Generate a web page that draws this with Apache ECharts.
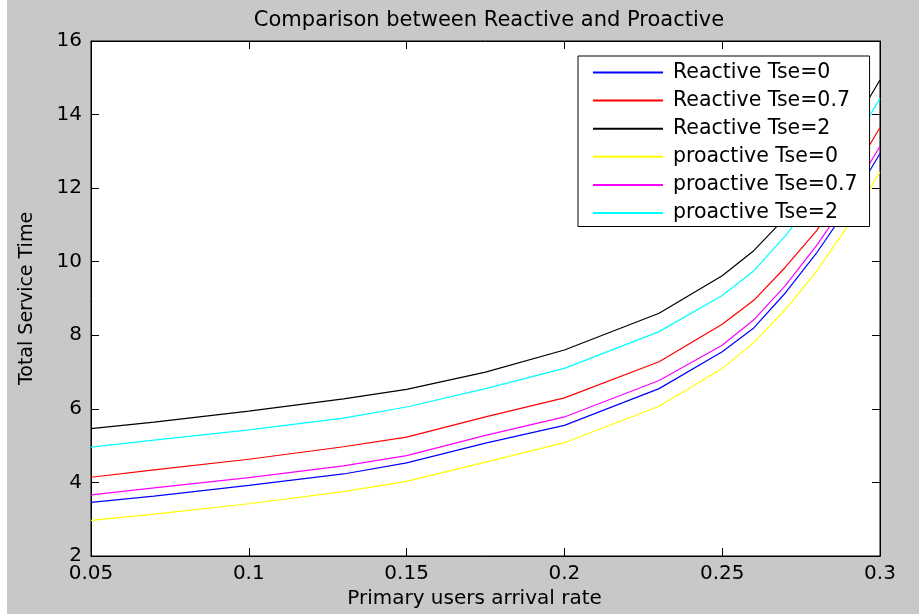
<!DOCTYPE html>
<html>
<head>
<meta charset="utf-8">
<script src="https://cdn.jsdelivr.net/npm/echarts@6/dist/echarts.min.js"></script>
<style>
html,body{margin:0;padding:0;background:#fff;}
#chart{width:919px;height:614px;}
</style>
</head>
<body>
<div id="chart"></div>
<script>
const arrivalRate = [0.05, 0.07, 0.10, 0.13, 0.15, 0.175, 0.20, 0.23, 0.25, 0.26, 0.27, 0.28, 0.29, 0.30];
const reactiveTse0   = [3.46, 3.63, 3.92, 4.23, 4.53, 5.07, 5.55, 6.55, 7.55, 8.20, 9.15, 10.25, 11.50, 12.94];
const reactiveTse07  = [4.14, 4.34, 4.63, 4.97, 5.23, 5.78, 6.30, 7.28, 8.30, 8.95, 9.85, 10.85, 12.20, 13.65];
const reactiveTse2   = [5.46, 5.64, 5.94, 6.27, 6.53, 7.00, 7.60, 8.60, 9.62, 10.30, 11.20, 12.30, 13.50, 14.94];
const proactiveTse0  = [2.97, 3.14, 3.42, 3.75, 4.03, 4.55, 5.08, 6.07, 7.10, 7.80, 8.70, 9.75, 11.00, 12.44];
const proactiveTse07 = [3.66, 3.85, 4.13, 4.45, 4.73, 5.28, 5.78, 6.77, 7.73, 8.42, 9.35, 10.45, 11.70, 13.14];
const proactiveTse2  = [4.96, 5.15, 5.43, 5.75, 6.05, 6.55, 7.10, 8.10, 9.08, 9.75, 10.70, 11.80, 13.00, 14.44];
const seriesNames = ['Reactive Tse=0', 'Reactive Tse=0.7', 'Reactive Tse=2', 'proactive Tse=0', 'proactive Tse=0.7', 'proactive Tse=2'];
const seriesValues = [reactiveTse0, reactiveTse07, reactiveTse2, proactiveTse0, proactiveTse07, proactiveTse2];
const seriesColors = ['#0000ff', '#ff0000', '#000000', '#ffff00', '#ff00ff', '#00ffff'];
const xTicks = [0.05, 0.3, 0.05]; // min, max, interval
const yTicks = [2, 16, 2];

const FONT = 'DejaVu Sans';
const chart = echarts.init(document.getElementById('chart'));
const tickFmt = v => String(+v.toFixed(2));

chart.setOption({
  backgroundColor: '#c8c8c8',
  animation: false,
  title: {
    text: 'Comparison between Reactive and Proactive',
    left: 484, top: 5, textAlign: 'center',
    textStyle: {fontFamily: FONT, fontSize: 21, fontWeight: 'normal', color: '#000'}
  },
  graphic: [{type: 'rect', left: 0, top: 0, shape: {width: 7, height: 614}, style: {fill: '#fff'}, silent: true}],
  grid: {left: 91, right: 39, top: 41, bottom: 58, show: true, backgroundColor: '#fff', borderColor: '#000', borderWidth: 1},
  legend: {
    orient: 'vertical', left: 578, top: 56,
    backgroundColor: '#fff', borderColor: '#000', borderWidth: 1,
    padding: [6, 12, 3, 15],
    itemWidth: 70, itemHeight: 2, itemGap: 7.1,
    icon: 'rect',
    textStyle: {fontFamily: FONT, fontSize: 20.5, color: '#000', lineHeight: 20, padding: [0, 0, 0, 5]},
    data: seriesNames
  },
  xAxis: [{
    type: 'value', min: xTicks[0], max: xTicks[1], interval: xTicks[2],
    name: 'Primary users arrival rate', nameLocation: 'middle', nameGap: 31,
    nameTextStyle: {fontFamily: FONT, fontSize: 20, color: '#000', padding: [0, 22, 0, 0]},
    axisLine: {lineStyle: {color: '#000', width: 1}},
    axisTick: {inside: true, length: 8, lineStyle: {color: '#000'}},
    axisLabel: {fontFamily: FONT, fontSize: 20, color: '#000', margin: 8, formatter: tickFmt},
    splitLine: {show: false}
  }, {
    type: 'value', position: 'top', min: xTicks[0], max: xTicks[1], interval: xTicks[2],
    axisLine: {lineStyle: {color: '#000'}},
    axisTick: {inside: true, length: 8, lineStyle: {color: '#000'}},
    axisLabel: {show: false}, splitLine: {show: false}
  }],
  yAxis: [{
    type: 'value', min: yTicks[0], max: yTicks[1], interval: yTicks[2],
    name: 'Total Service Time', nameLocation: 'middle', nameGap: 54,
    nameTextStyle: {fontFamily: FONT, fontSize: 19, color: '#000'},
    axisLine: {show: true, lineStyle: {color: '#000', width: 1}},
    axisTick: {show: true, inside: true, length: 8, lineStyle: {color: '#000'}},
    axisLabel: {fontFamily: FONT, fontSize: 20, color: '#000', margin: 9},
    splitLine: {show: false}
  }, {
    type: 'value', position: 'right', min: yTicks[0], max: yTicks[1], interval: yTicks[2],
    axisLine: {show: true, lineStyle: {color: '#000'}},
    axisTick: {show: true, inside: true, length: 8, lineStyle: {color: '#000'}},
    axisLabel: {show: false}, splitLine: {show: false}
  }],
  series: seriesNames.map((name, i) => ({
    name, type: 'line', showSymbol: false, symbol: 'none',
    color: seriesColors[i],
    lineStyle: {width: 1.2, color: seriesColors[i]},
    data: arrivalRate.map((x, j) => [x, seriesValues[i][j]])
  }))
});
</script>
</body>
</html>
